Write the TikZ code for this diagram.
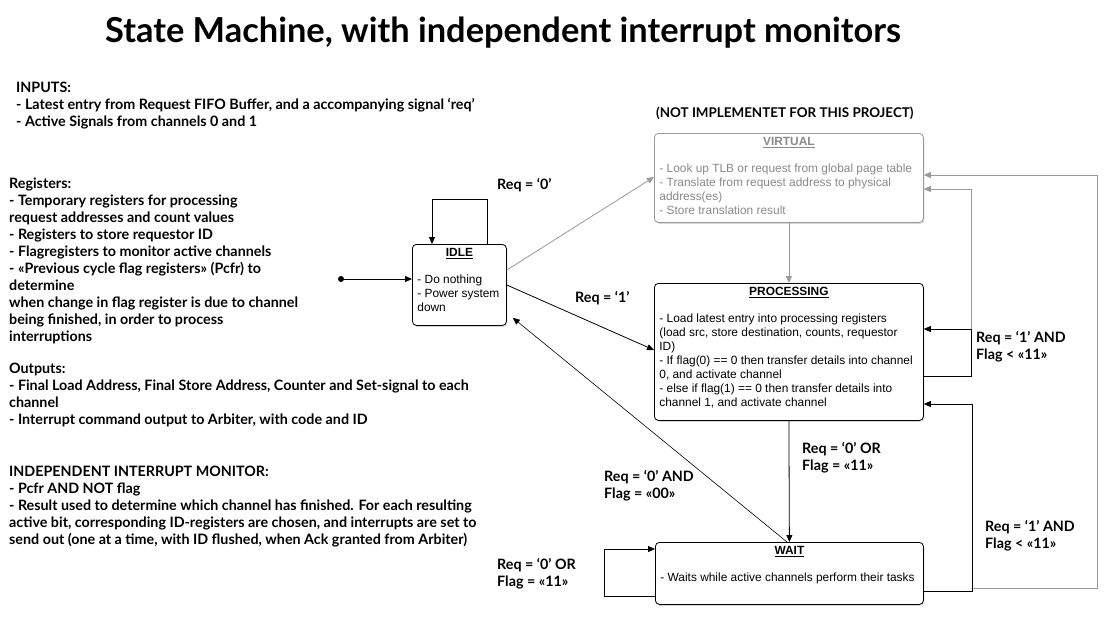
\documentclass[tikz,border=0pt]{standalone}
\usepackage{fontspec}
\setmainfont{Lato}
\newfontfamily\boxfont{Liberation Sans}
\usetikzlibrary{arrows.meta,calc,shadows}
\definecolor{lgray}{HTML}{9A9A9A}
\definecolor{tgray}{HTML}{8A8A8A}
\newcommand\smcontent[4]{\parbox[t][#2pt][t]{\dimexpr #1pt-10pt\relax}{\centering\rule{0pt}{12pt}\underline{\textbf{#3}}\par\vspace{13pt}\raggedright #4}}
\newcommand\blk[2]{\parbox[t]{#1pt}{\raggedright #2}}
\begin{document}
\begin{tikzpicture}[x=1pt,y=-1pt,
 arr/.style={-{Triangle[length=7pt,width=6pt]}, line width=0.8pt},
 garr/.style={arr, draw=lgray},
 gline/.style={line width=0.8pt, draw=lgray},
 stbox/.style={draw, rounded corners=4pt, inner xsep=5pt, inner ysep=0pt, anchor=north west, fill=white, line width=0.8pt,
   drop shadow={shadow xshift=1pt,shadow yshift=-1.5pt,opacity=0.3},
   font=\boxfont\fontsize{11.9}{14}\selectfont},
 lbl/.style={font=\bfseries\fontsize{14.3}{17}\selectfont, anchor=base west, inner sep=0pt},
 ttl/.style={font=\bfseries\fontsize{34.4}{40}\selectfont, anchor=base west, inner sep=0pt}
]
\useasboundingbox (0,0) rectangle (1110,622);
\fill[white] (0,0) rectangle (1110,622);

% title and side texts
\node[ttl] (title) at (105,42) {State Machine, with independent interrupt monitors};
\node[lbl] (inputs) at (16,92) {\blk{500}{INPUTS:\\- Latest entry from Request FIFO Buffer, and a accompanying signal ‘req’\\- Active Signals from channels 0 and 1}};
\node[lbl] (regs) at (9,188) {\blk{350}{Registers:\\- Temporary registers for processing\\request addresses and count values\\- Registers to store requestor ID\\- Flagregisters to monitor active channels\\- «Previous cycle flag registers» (Pcfr) to\\determine\\when change in flag register is due to channel\\being finished, in order to process\\interruptions}};
\node[lbl] (outs) at (9,373) {\blk{500}{Outputs:\\- Final Load Address, Final Store Address, Counter and Set-signal to each\\channel\\- Interrupt command output to Arbiter, with code and ID}};
\node[lbl] (mon) at (9,476) {\blk{500}{INDEPENDENT INTERRUPT MONITOR:\\- Pcfr AND NOT flag\\- Result used to determine which channel has finished. For each resulting\\active bit, corresponding ID-registers are chosen, and interrupts are set to\\send out (one at a time, with ID flushed, when Ack granted from Arbiter)}};
\node[lbl, font=\bfseries\fontsize{13.4}{17}\selectfont] (notimpl) at (656,117) {(NOT IMPLEMENTET FOR THIS PROJECT)};

% state boxes
\node[stbox] (idle) at (412,244) {\smcontent{94}{81}{IDLE}{- Do nothing\\- Power system\\down}};
\node[stbox, draw=lgray, text=tgray] (virt) at (654,133) {\smcontent{269}{89}{VIRTUAL}{- Look up TLB or request from global page table\\- Translate from request address to physical\\address(es)\\- Store translation result}};
\node[stbox] (proc) at (654,283) {\smcontent{269}{137}{PROCESSING}{- Load latest entry into processing registers\\(load src, store destination, counts, requestor\\ID)\\- If flag(0) == 0 then transfer details into channel\\0, and activate channel\\- else if flag(1) == 0 then transfer details into\\channel 1, and activate channel}};
\node[stbox] (wait) at (655,542) {\smcontent{268}{62}{WAIT}{- Waits while active channels perform their tasks}};

% initial state
\coordinate (init) at (341,279);
\fill (init) circle (3);
\draw[arr] (init) -- (init -| idle.west);

% IDLE self loop
\draw[arr] ($(idle.north west)+(75,0)$) |- ($(idle.north west)+(20,-45)$) -- ($(idle.north west)+(20,0)$);

% IDLE -> VIRTUAL, IDLE -> PROCESSING
\draw[garr] ($(idle.north east)+(0,26)$) -- ($(virt.north west)+(0,44)$);
\draw[arr] ($(idle.north east)+(0,41)$) -- ($(proc.north west)+(0,67)$);

% VIRTUAL -> PROCESSING
\draw[garr] (virt.south) -- (proc.north);

% PROCESSING -> WAIT
\draw[arr] (proc.south) -- (wait.north);

% WAIT -> IDLE
\draw[arr, line width=0.6pt] ($(wait.north west)+(132,0)$) -- ($(idle.south east)+(6,-8)$);

% PROCESSING self loop and to VIRTUAL
\coordinate (pc) at ($(proc.north east)+(48,46)$);
\draw[arr] ($(proc.north east)+(0,93)$) -| (pc) -- ($(proc.north east)+(0,46)$);
\draw[garr] (pc) |- ($(virt.north east)+(0,56)$);

% WAIT -> PROCESSING and to VIRTUAL
\coordinate (wc) at ($(wait.north east)+(49,46)$);
\draw[arr] ($(wait.north east)+(0,49)$) -| ($(proc.north east)+(49,121)$) -- ($(proc.north east)+(0,121)$);
\draw[garr] (wc) -| ($(virt.north east)+(174,42)$) -- ($(virt.north east)+(0,42)$);

% WAIT self loop
\draw[arr] ($(wait.south west)+(0,-8)$) -| ($(wait.north west)+(-51,7)$) -- ($(wait.north west)+(0,7)$);

% transition labels
\node[lbl] (t0) at (497,189) {Req = ‘0’};
\node[lbl] (t1) at (575,302) {Req = ‘1’};
\node[lbl] (t2) at (976,342) {\blk{130}{Req = ‘1’ AND\\Flag < «11»}};
\node[lbl] (t3) at (802,453) {\blk{130}{Req = ‘0’ OR\\Flag = «11»}};
\node[lbl] (t4) at (604,481) {\blk{130}{Req = ‘0’ AND\\Flag = «00»}};
\node[lbl] (t5) at (497,569) {\blk{130}{Req = ‘0’ OR\\Flag = «11»}};
\node[lbl] (t6) at (985,531) {\blk{120}{Req = ‘1’ AND\\Flag < «11»}};
\end{tikzpicture}
\end{document}
